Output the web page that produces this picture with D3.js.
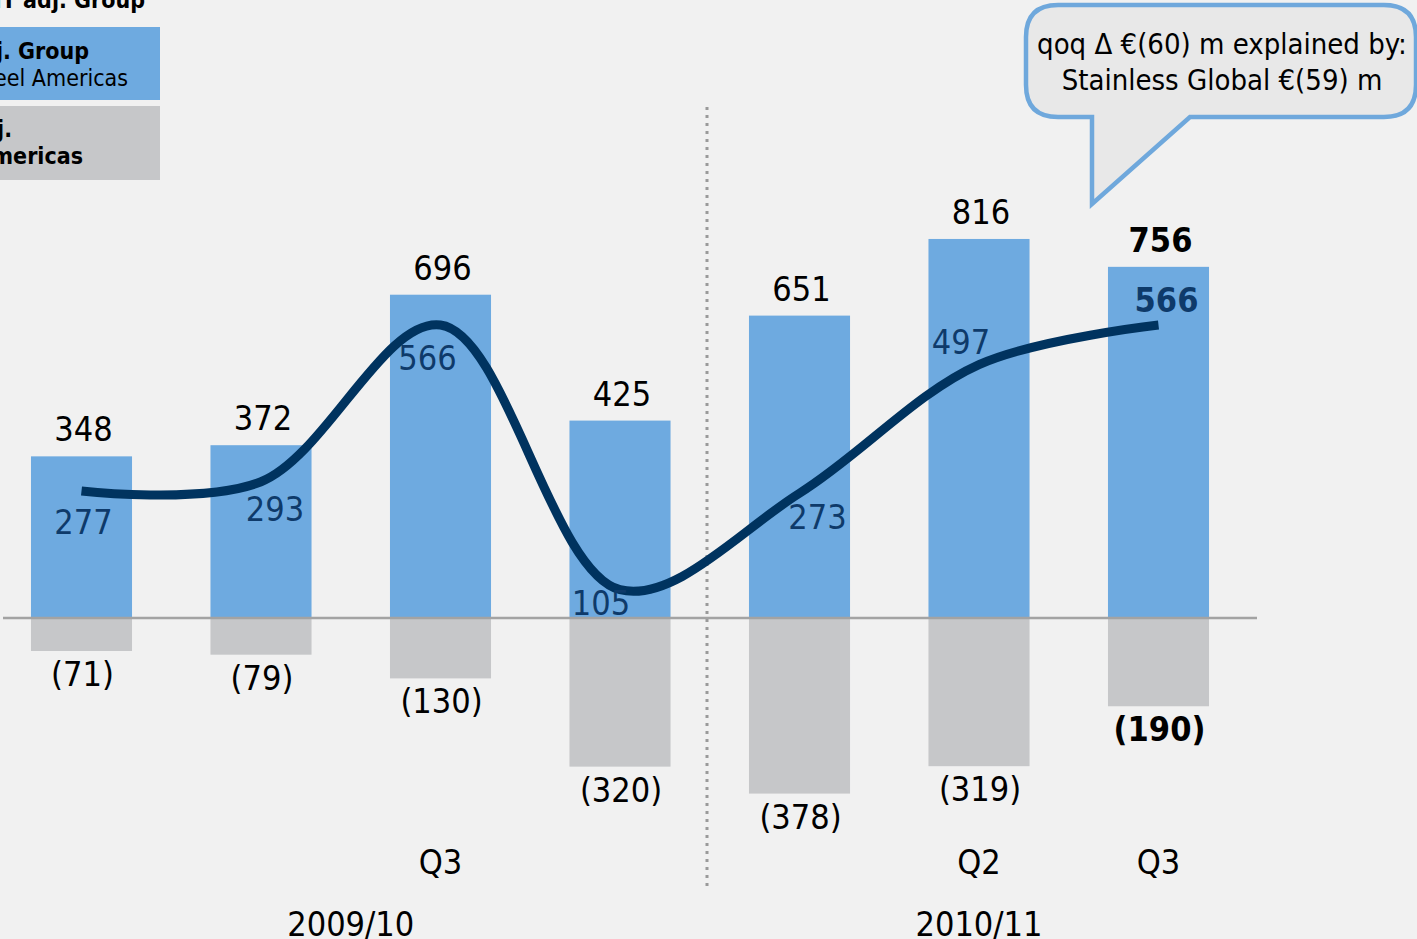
<!DOCTYPE html>
<html><head><meta charset="utf-8">
<script src="https://cdn.jsdelivr.net/npm/d3@7"></script>
<style>
html,body{margin:0;padding:0;background:#f1f1f1;overflow:hidden}
text{font-family:"Liberation Sans Narrow","DejaVu Sans Condensed","Roboto",sans-serif}
</style></head>
<body>
<svg id="c" width="1417" height="939"></svg>
<script>
// ---- data ----
const categories = ["2009/10 Q1","2009/10 Q2","2009/10 Q3","2009/10 Q4","2010/11 Q1","2010/11 Q2","2010/11 Q3"];
const tickLabels = ["", "", "Q3", "", "", "Q2", "Q3"];
const groupTotal = [348, 372, 696, 425, 651, 816, 756];          // EBIT adj. Group (blue bars)
const exclSteelAmericas = [277, 293, 566, 105, 273, 497, 566];   // EBIT adj. Group excl. Steel Americas (line)
const steelAmericas = [-71, -79, -130, -320, -378, -319, -190];  // EBIT adj. Steel Americas (grey bars)
const fiscalYears = [{label:"2009/10", from:0, to:3}, {label:"2010/11", from:4, to:6}];
const calloutLines = ["qoq \u0394 \u20ac(60) m explained by:", "Stainless Global \u20ac(59) m"];
const legendTitle = "EBIT adj. Group";

// ---- layout / styles ----
const blue = "#6eaae0", grey = "#c6c7c9", navy = "#00335f", labelNavy = "#0e3a6a";
const innerLabelOffset = [[2,31],[14,27],[-13,33],[-19,13],[18,24],[-18,-23],[8,-25]];
const fmt = v => v < 0 ? "(" + Math.abs(v) + ")" : String(v);

const svg = d3.select("#c");
const x = d3.scaleBand().domain(categories).range([-8.25, 1248.25]).paddingInner(0.437).paddingOuter(0.2185);
const y = d3.scaleLinear().domain([0, 800]).range([618, 246.4]);
const yLine = d3.scaleLinear().domain([0, 566]).range([650, 325]);
const cx = i => x(categories[i]) + x.bandwidth()/2;

// legend (cropped at left edge)
svg.append("text").attr("x",145).attr("y",8).attr("text-anchor","end")
  .attr("font-size",23).attr("font-weight","bold").text(legendTitle);
svg.append("rect").attr("x",-200).attr("y",27).attr("width",360).attr("height",73).attr("fill",blue);
svg.append("rect").attr("x",-200).attr("y",106).attr("width",360).attr("height",74).attr("fill",grey);
svg.append("text").attr("x",89).attr("y",59).attr("text-anchor","end").attr("font-size",23).attr("font-weight","bold").text("EBIT adj. Group");
svg.append("text").attr("x",128).attr("y",86).attr("text-anchor","end").attr("font-size",23).text("excl. Steel Americas");
svg.append("text").attr("x",12).attr("y",137).attr("text-anchor","end").attr("font-size",23).attr("font-weight","bold").text("EBIT adj.");
svg.append("text").attr("x",83).attr("y",164).attr("text-anchor","end").attr("font-size",23).attr("font-weight","bold").text("Steel Americas");

// separator
svg.append("line").attr("x1",707).attr("x2",707).attr("y1",107).attr("y2",886)
  .attr("stroke","#9a9a9a").attr("stroke-width",3).attr("stroke-dasharray","3,5");

// bars
svg.selectAll(".pos").data(groupTotal).join("rect")
  .attr("x",(d,i)=>x(categories[i])).attr("width",x.bandwidth())
  .attr("y",d=>y(d)).attr("height",d=>y(0)-y(d)).attr("fill",blue);
svg.selectAll(".neg").data(steelAmericas).join("rect")
  .attr("x",(d,i)=>x(categories[i])).attr("width",x.bandwidth())
  .attr("y",y(0)).attr("height",d=>y(d)-y(0)).attr("fill",grey);

// zero line
svg.append("line").attr("x1",3).attr("x2",1257).attr("y1",y(0)).attr("y2",y(0))
  .attr("stroke","#a3a3a3").attr("stroke-width",2.5);

// line
const line = d3.line().x((d,i)=>cx(i)).y(d=>yLine(d)).curve(d3.curveCatmullRom.alpha(0.5));
svg.append("path").datum(exclSteelAmericas).attr("d",line)
  .attr("fill","none").attr("stroke",navy).attr("stroke-width",9);

// labels
const last = categories.length - 1;
svg.selectAll(".tl").data(groupTotal).join("text")
  .attr("x",(d,i)=>cx(i)+2).attr("y",d=>y(d)-15).attr("text-anchor","middle")
  .attr("font-size",34).attr("font-weight",(d,i)=>i===last?"bold":"normal").attr("fill","#000").text(fmt);
svg.selectAll(".il").data(exclSteelAmericas).join("text")
  .attr("x",(d,i)=>cx(i)+innerLabelOffset[i][0]).attr("y",(d,i)=>yLine(d)+innerLabelOffset[i][1]+12)
  .attr("text-anchor","middle").attr("font-size",34)
  .attr("font-weight",(d,i)=>i===last?"bold":"normal").attr("fill",labelNavy).text(fmt);
svg.selectAll(".bl").data(steelAmericas).join("text")
  .attr("x",(d,i)=>cx(i)+1).attr("y",d=>y(d)+35).attr("text-anchor","middle")
  .attr("font-size",34).attr("font-weight",(d,i)=>i===last?"bold":"normal").attr("fill","#000").text(fmt);

// quarter ticks
svg.selectAll(".q").data(tickLabels).join("text")
  .attr("x",(d,i)=>cx(i)).attr("y",874).attr("text-anchor","middle").attr("font-size",34).text(d=>d);
// fiscal years
svg.selectAll(".fy").data(fiscalYears).join("text")
  .attr("x",d=>(cx(d.from)+cx(d.to))/2).attr("y",936).attr("text-anchor","middle").attr("font-size",34).text(d=>d.label);

// callout
const cg = svg.append("g");
cg.append("path")
  .attr("d","M1058,5 H1384 Q1416,5 1416,37 V85 Q1416,117 1384,117 H1190 L1092,204 V117 H1058 Q1026,117 1026,85 V37 Q1026,5 1058,5 Z")
  .attr("fill","#e8e8e8").attr("stroke","#6fa8dc").attr("stroke-width",4.5);
cg.selectAll("text").data(calloutLines).join("text")
  .attr("x",1222).attr("y",(d,i)=>54+i*36).attr("text-anchor","middle").attr("font-size",29).text(d=>d);
</script>
</body></html>
